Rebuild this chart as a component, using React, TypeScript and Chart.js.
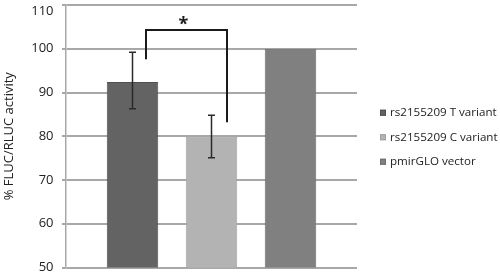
import React, { useEffect, useRef } from "react";
import { Chart, registerables } from "chart.js";

Chart.register(...registerables);

const categories = [""];
const seriesLabels = ["rs2155209 T variant", "rs2155209 C variant", "pmirGLO vector"];
const seriesValues = [92.4, 79.9, 100];
const errorLow = [86.3, 75.1, null];
const errorHigh = [99.2, 84.8, null];
const seriesColors = ["#636363", "#b3b3b3", "#808080"];
const seriesBorders = ["#4f4f4f", "#a2a2a2", "#6e6e6e"];
const bracketValues = [97.6, 104.3, 83.2]; // left end, top, right end
const starValue = 106.3;
const yTicks = [50, 60, 70, 80, 90, 100, 110];

const FONT = "'Open Sans', 'DejaVu Sans', sans-serif";

const annotationsPlugin = {
  id: "errorAndBracket",
  afterDatasetsDraw(chart: any) {
    const ctx = chart.ctx;
    const y = chart.scales.y;
    ctx.save();
    ctx.strokeStyle = "#2a2a2a";
    ctx.lineWidth = 1.5;
    seriesValues.forEach((_, i) => {
      const lo = errorLow[i];
      const hi = errorHigh[i];
      if (lo == null || hi == null) return;
      const el = chart.getDatasetMeta(i).data[0];
      const x = el.x;
      const yl = y.getPixelForValue(lo);
      const yh = y.getPixelForValue(hi);
      ctx.beginPath();
      ctx.moveTo(x, yl);
      ctx.lineTo(x, yh);
      ctx.moveTo(x - 3.5, yl);
      ctx.lineTo(x + 3.5, yl);
      ctx.moveTo(x - 3.5, yh);
      ctx.lineTo(x + 3.5, yh);
      ctx.stroke();
    });
    const x1 = chart.getDatasetMeta(0).data[0].x + 13.5;
    const x2 = chart.getDatasetMeta(1).data[0].x + 15.5;
    ctx.strokeStyle = "#1a1a1a";
    ctx.lineWidth = 2;
    ctx.beginPath();
    ctx.moveTo(x1, y.getPixelForValue(bracketValues[0]));
    ctx.lineTo(x1, y.getPixelForValue(bracketValues[1]));
    ctx.lineTo(x2, y.getPixelForValue(bracketValues[1]));
    ctx.lineTo(x2, y.getPixelForValue(bracketValues[2]));
    ctx.stroke();
    ctx.fillStyle = "#1a1a1a";
    ctx.font = `bold 18px ${FONT}`;
    ctx.textAlign = "center";
    ctx.textBaseline = "middle";
    ctx.fillText("*", (x1 + x2) / 2 - 3, y.getPixelForValue(starValue) + 3.5);
    ctx.restore();
  },
};

const sideLegendPlugin = {
  id: "sideLegend",
  afterDraw(chart: any) {
    const ctx = chart.ctx;
    const area = chart.chartArea;
    const datasets = chart.data.datasets;
    const rowGap = 24.5;
    const centerY = (area.top + area.bottom) / 2 + 1;
    const startY = centerY - ((datasets.length - 1) * rowGap) / 2;
    const boxX = area.right + 23;
    ctx.save();
    ctx.font = `11.6px ${FONT}`;
    ctx.textAlign = "left";
    ctx.textBaseline = "middle";
    datasets.forEach((ds: any, i: number) => {
      const cy = startY + i * rowGap;
      ctx.fillStyle = ds.backgroundColor;
      ctx.fillRect(boxX, cy - 3, 6, 6);
      ctx.strokeStyle = ds.borderColor;
      ctx.lineWidth = 1;
      ctx.strokeRect(boxX + 0.5, cy - 2.5, 5, 5);
      ctx.fillStyle = "#222222";
      ctx.fillText(ds.label, boxX + 10, cy);
    });
    ctx.restore();
  },
};

export default function App() {
  const ref = useRef<HTMLCanvasElement | null>(null);

  useEffect(() => {
    if (!ref.current) return;
    const chart = new Chart(ref.current, {
      type: "bar",
      data: {
        labels: categories,
        datasets: seriesLabels.map((label, i) => ({
          label,
          data: [seriesValues[i]],
          backgroundColor: seriesColors[i],
          borderColor: seriesBorders[i],
          borderWidth: 1,
          categoryPercentage: 0.8144,
          barPercentage: 0.652,
        })),
      },
      options: {
        animation: false,
        responsive: false,
        devicePixelRatio: 1,
        layout: { padding: { top: 5, bottom: 5.5, left: 0, right: 143 } },
        plugins: {
          tooltip: { enabled: false },
          legend: { display: false },
        },
        scales: {
          x: { display: false },
          y: {
            min: 50,
            max: 110,
            afterBuildTicks: (scale: any) => {
              scale.ticks = yTicks.map((v) => ({ value: v }));
            },
            afterFit: (scale: any) => {
              scale.width = 66;
              scale.paddingTop = 0;
              scale.paddingBottom = 0;
            },
            ticks: {
              padding: 8.5,
              color: "#222222",
              font: (c: any) => ({
                family: FONT,
                size: 13,
                lineHeight: c.tick && c.tick.value === 110 ? 12 / 13 : 1.2,
              }),
              callback: (v: any) => (v === 110 ? ["", String(v)] : String(v)),
            },
            grid: { color: "#a8a8a8", lineWidth: 2, tickLength: 4 },
            border: { color: "#a8a8a8", width: 1.5 },
            title: {
              display: true,
              text: "% FLUC/RLUC activity",
              color: "#222222",
              font: { family: FONT, size: 13 },
              padding: { top: 1, bottom: 0 },
            },
          },
        },
      },
      plugins: [annotationsPlugin, sideLegendPlugin],
    } as any);
    return () => chart.destroy();
  }, []);

  return (
    <div style={{ position: "fixed", left: 0, top: 0, width: 500, height: 273, background: "#ffffff" }}>
      <canvas ref={ref} width={500} height={273} style={{ width: 500, height: 273, display: "block" }} />
    </div>
  );
}
